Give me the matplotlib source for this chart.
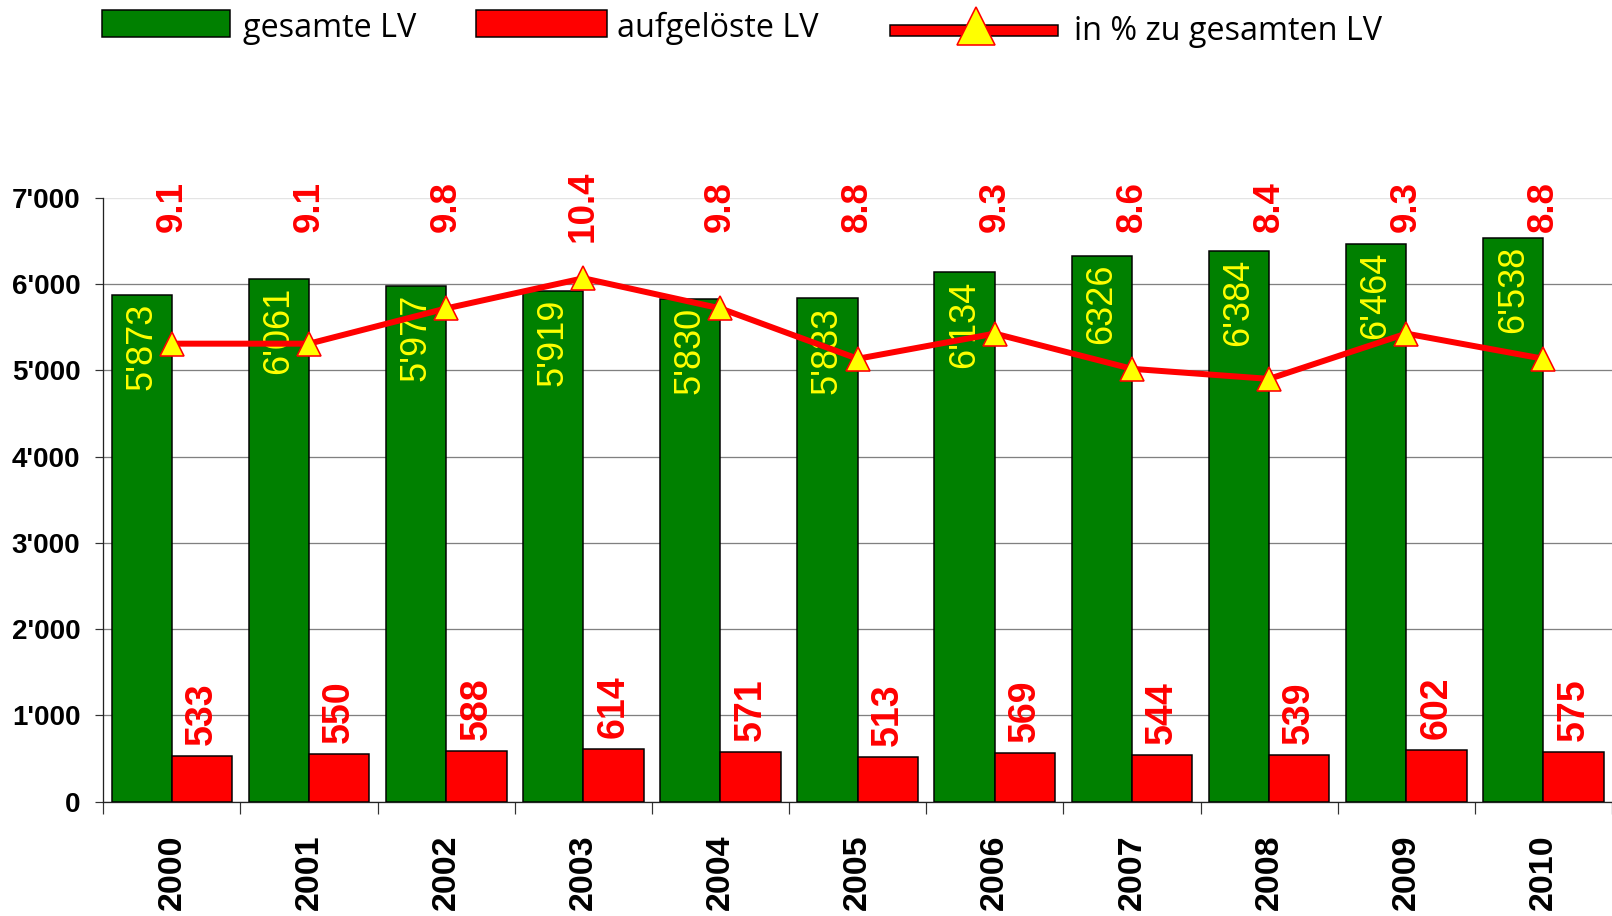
import matplotlib
matplotlib.use('Agg')
import matplotlib.pyplot as plt
from matplotlib.patches import Rectangle
from matplotlib.lines import Line2D
from matplotlib.ticker import FuncFormatter, FixedLocator
import numpy as np

# ---------------- data ----------------
years = ['2000', '2001', '2002', '2003', '2004', '2005', '2006', '2007', '2008', '2009', '2010']
gesamte = [5873, 6061, 5977, 5919, 5830, 5833, 6134, 6326, 6384, 6464, 6538]
gesamte_labels = ["5'873", "6'061", "5'977", "5'919", "5'830", "5'833", "6'134",
                  "6326", "6'384", "6'464", "6'538"]
aufgeloeste = [533, 550, 588, 614, 571, 513, 569, 544, 539, 602, 575]
prozent = [9.1, 9.1, 9.8, 10.4, 9.8, 8.8, 9.3, 8.6, 8.4, 9.3, 8.8]
y_ticks = [0, 1000, 2000, 3000, 4000, 5000, 6000, 7000]
legend_labels = ['gesamte LV', 'aufgelöste LV', 'in % zu gesamten LV']

GREEN = '#008000'
RED = '#FF0000'
YELLOW = '#FFFF00'
PX = 0.72  # points per pixel at dpi 100

plt.rcParams['font.family'] = ['Liberation Sans', 'DejaVu Sans']

fig = plt.figure(figsize=(16.12, 9.16), dpi=100)
ax = fig.add_axes([103.3 / 1612, 114.3 / 916, 1 - 103.3 / 1612, (801.7 - 197.7) / 916])

x = np.arange(len(years))
w = 0.44
ax.bar(x - w / 2, gesamte, w, color=GREEN, edgecolor='black', linewidth=1.5 * PX, zorder=3)
ax.bar(x + w / 2, aufgeloeste, w, color=RED, edgecolor='black', linewidth=1.5 * PX, zorder=3)

ax.set_xlim(-0.5, len(years) - 0.5)
ax.set_ylim(0, 7000)

# y axis
ax.yaxis.set_major_locator(FixedLocator(y_ticks))
ax.yaxis.set_major_formatter(FuncFormatter(lambda v, p: f"{int(v):,}".replace(',', "'")))
ax.tick_params(axis='y', direction='out', length=8 * PX, width=1.2 * PX, color='#333333',
               pad=15 * PX, labelsize=20)
for lab in ax.get_yticklabels():
    lab.set_fontweight('bold')

# x axis
ax.set_xticks(x)
ax.set_xticklabels(years, rotation=90, fontsize=24.5, fontweight='bold', va='top')
ax.set_xticks(np.arange(len(years) + 1) - 0.5, minor=True)
ax.tick_params(axis='x', which='major', length=0, pad=33 * PX)
ax.tick_params(axis='x', which='minor', direction='out', length=12 * PX, width=1.2 * PX,
               color='#333333')

# grid
ax.yaxis.grid(True, color='#808080', linewidth=1.3 * PX, zorder=0)
ax.set_axisbelow(True)
for gl, t in zip(ax.yaxis.get_gridlines(), y_ticks):
    if t == y_ticks[-1]:
        gl.set_color('#e4e4e4')

for s in ['top', 'right']:
    ax.spines[s].set_visible(False)
ax.spines['left'].set_color('#222222')
ax.spines['bottom'].set_color('#222222')
ax.spines['left'].set_linewidth(1.3 * PX)
ax.spines['bottom'].set_linewidth(1.3 * PX)

# value labels
for i in range(len(years)):
    ax.annotate(gesamte_labels[i], (x[i] - w / 2, gesamte[i]), xytext=(0, -8 * PX),
                textcoords='offset points', rotation=90, ha='center', va='top',
                color=YELLOW, fontsize=26, zorder=4)
    ax.annotate(f"{aufgeloeste[i]}", (x[i] + w / 2, aufgeloeste[i]), xytext=(0, 11 * PX),
                textcoords='offset points', rotation=90, ha='center', va='bottom',
                color=RED, fontsize=27, fontweight='bold', zorder=4)
    ax.text(x[i], 6900, f"{prozent[i]:.1f}", rotation=90, ha='center', va='center',
            color=RED, fontsize=26.5, fontweight='bold', clip_on=False, zorder=4)

# percentage line on hidden secondary axis
ax2 = ax.twinx()
ax2.set_ylim(0, 12)
ax2.axis('off')
ax2.plot(x, prozent, color=RED, linewidth=6 * PX, marker='^', markersize=24 * PX,
         markerfacecolor=YELLOW, markeredgecolor=RED, markeredgewidth=1.6 * PX,
         clip_on=False, zorder=5)

# legend (drawn in figure pixel coordinates)
lax = fig.add_axes([0, 0, 1, 1], zorder=-1)
lax.set_xlim(0, 1612)
lax.set_ylim(916, 0)
lax.axis('off')
LFONT = ['Open Sans', 'DejaVu Sans']
lax.add_patch(Rectangle((102, 10), 128, 27, facecolor=GREEN, edgecolor='black', linewidth=1.5 * PX))
lax.text(243, 37, legend_labels[0], fontsize=23.3, family=LFONT, va='baseline', ha='left')
lax.add_patch(Rectangle((476, 10), 131, 27, facecolor=RED, edgecolor='black', linewidth=1.5 * PX))
lax.text(617, 37, legend_labels[1], fontsize=23.3, family=LFONT, va='baseline', ha='left')
lax.add_patch(Rectangle((890, 25), 168, 11, facecolor=RED, edgecolor='black', linewidth=1.5 * PX))
lax.add_line(Line2D([976], [26], marker='^', markersize=38 * PX, markerfacecolor=YELLOW,
                    markeredgecolor=RED, markeredgewidth=1.6 * PX, linestyle='none'))
lax.text(1074, 40, legend_labels[2], fontsize=23.3, family=LFONT, va='baseline', ha='left')

fig.savefig('out.png', dpi=100)
